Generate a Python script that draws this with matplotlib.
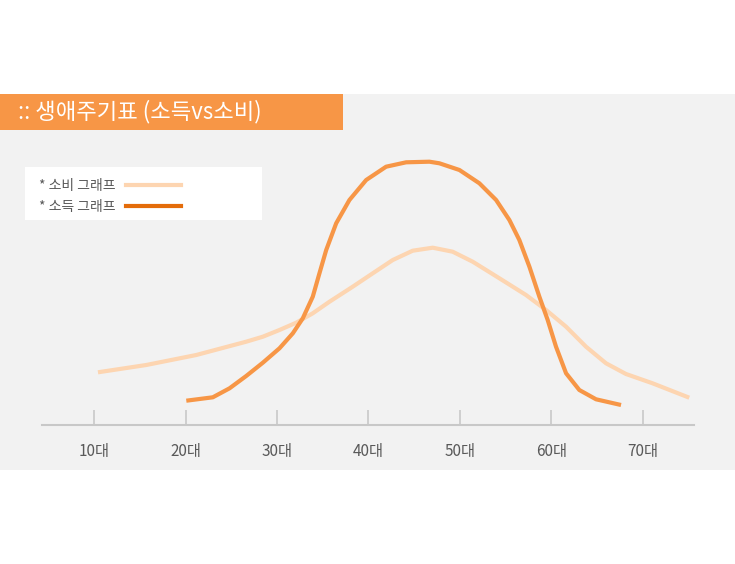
import matplotlib.pyplot as plt
from matplotlib.patches import Rectangle
from matplotlib.lines import Line2D

plt.rcParams['font.family'] = ['Noto Sans CJK KR', 'DejaVu Sans']

# 연령대 (x) 와 지수 값 (y)
spend_age = [10.42, 15.70, 21.17, 26.63, 28.45, 30.27, 32.10, 33.91, 35.74, 38.28, 40.47,
             42.66, 44.84, 47.03, 49.21, 51.40, 54.32, 57.23, 59.42, 61.61, 63.79, 65.98,
             68.16, 71.07, 75.08]
spend_val = [52.7, 60, 70, 83.3, 88.3, 95, 102.3, 111.7, 123.3, 138.3, 151.7,
             165, 174.3, 177.3, 173.3, 163.3, 146.7, 130, 115, 98.3, 78.3, 61.7,
             51, 41.7, 27.3]

income_age = [20.08, 22.98, 24.81, 26.63, 28.45, 30.27, 31.73, 32.82, 33.91, 34.64, 35.38,
              36.47, 37.92, 39.75, 41.93, 44.12, 46.67, 47.76, 49.95, 52.13, 53.96, 55.41,
              56.50, 57.60, 58.69, 59.60, 60.51, 61.61, 63.06, 64.89, 67.62]
income_val = [24.3, 27.7, 36.7, 49, 62.3, 76.7, 91.7, 106.7, 128.3, 151.7, 175,
              201.7, 225, 245, 258.3, 262.7, 263.3, 261.7, 255, 241.7, 225, 205,
              185, 158.3, 128.3, 105, 78.3, 51.7, 35, 25.7, 20]

ticks = [10, 20, 30, 40, 50, 60, 70]
tick_labels = ['10대', '20대', '30대', '40대', '50대', '60대', '70대']

W, H = 735, 564
fig = plt.figure(figsize=(W / 100, H / 100), dpi=100)

# gray panel and title box
fig.patches.append(Rectangle((0, (H - 470) / H), 1, 376 / H, transform=fig.transFigure,
                             facecolor='#f2f2f2', edgecolor='none', zorder=-2))
fig.patches.append(Rectangle((0, (H - 130) / H), 343 / W, 36 / H, transform=fig.transFigure,
                             facecolor='#f79646', edgecolor='none', zorder=-1))
fig.text(18 / W, (H - 112) / H, ':: 생애주기표 (소득vs소비)', color='white',
         fontsize=16, va='center', ha='left')

# legend box
fig.patches.append(Rectangle((25 / W, (H - 220) / H), 237 / W, 53 / H, transform=fig.transFigure,
                             facecolor='white', edgecolor='none', zorder=-1))

ax = fig.add_axes([42 / W, (H - 425) / H, (694 - 42) / W, 285 / H])
ax.set_zorder(3)
ax.set_facecolor('none')
ax.set_xlim(4.3, 75.6)
ax.set_ylim(0, 285)

ax.plot(spend_age, spend_val, color='#fdd5b1', lw=3, solid_capstyle='butt',
        solid_joinstyle='round', clip_on=False)
ax.plot(income_age, income_val, color='#f79646', lw=3, solid_capstyle='butt',
        solid_joinstyle='round', clip_on=False)

for s in ['top', 'right', 'left']:
    ax.spines[s].set_visible(False)
ax.spines['bottom'].set_color('#c8c8c8')
ax.spines['bottom'].set_linewidth(1.5)
ax.set_yticks([])
ax.set_xticks(ticks)
ax.set_xticklabels(tick_labels)
ax.tick_params(axis='x', direction='in', length=11, width=1.2, color='#c8c8c8',
               labelsize=11, labelcolor='#595959', pad=13)

handles = [Line2D([], [], color='#fdd5b1', lw=3),
           Line2D([], [], color='#e46c0a', lw=3)]
leg = fig.legend(handles, ['* 소비 그래프', '* 소득 그래프'], loc='upper left',
                 bbox_to_anchor=(29 / W, (H - 169) / H), frameon=False, markerfirst=False,
                 fontsize=10, labelcolor='#595959', handlelength=4.0, handletextpad=0.75,
                 labelspacing=0.5, borderpad=0.2)
leg.set_zorder(5)

fig.savefig('out.png', dpi=100)
